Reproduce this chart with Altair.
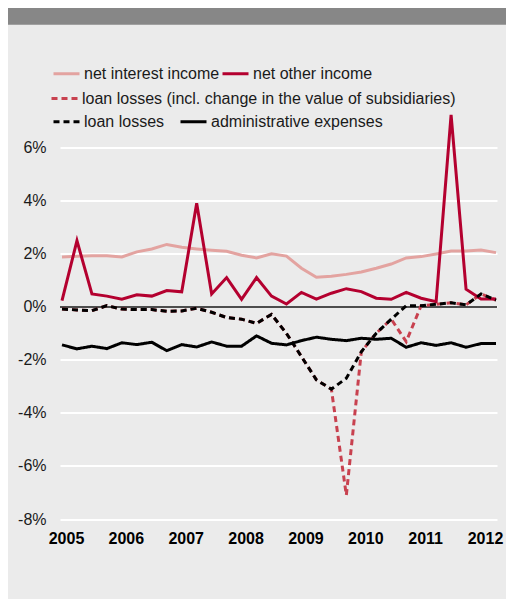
import altair as alt
import pandas as pd

quarters = [2005 + i / 4 for i in range(30)]
net_interest_income = [1.89, 1.91, 1.93, 1.93, 1.89, 2.08, 2.19, 2.36, 2.25, 2.19,
                       2.14, 2.10, 1.95, 1.85, 2.01, 1.92, 1.46, 1.12, 1.16, 1.23,
                       1.32, 1.46, 1.62, 1.85, 1.90, 2.00, 2.11, 2.11, 2.15, 2.05]
net_other_income = [0.24, 2.50, 0.49, 0.41, 0.29, 0.46, 0.41, 0.62, 0.57, 3.91,
                    0.49, 1.11, 0.29, 1.11, 0.41, 0.11, 0.55, 0.30, 0.52, 0.69,
                    0.58, 0.33, 0.29, 0.55, 0.33, 0.20, 7.25, 0.67, 0.30, 0.30]
loan_losses_incl = [-0.08, -0.11, -0.14, 0.05, -0.08, -0.10, -0.10, -0.16, -0.15, -0.05,
                    -0.20, -0.40, -0.46, -0.62, -0.28, -1.00, -1.87, -2.75, -3.10, -7.10,
                    -1.69, -0.99, -0.46, -1.31, 0.05, 0.10, 0.16, 0.08, 0.49, 0.26]
loan_losses = [-0.08, -0.11, -0.14, 0.05, -0.08, -0.10, -0.10, -0.16, -0.15, -0.05,
               -0.20, -0.40, -0.46, -0.62, -0.28, -1.00, -1.87, -2.75, -3.10, -2.69,
               -1.69, -0.99, -0.46, 0.05, 0.05, 0.10, 0.16, 0.08, 0.49, 0.26]
admin_expenses = [-1.43, -1.58, -1.48, -1.57, -1.35, -1.42, -1.33, -1.65, -1.42, -1.51,
                  -1.32, -1.48, -1.48, -1.09, -1.37, -1.43, -1.27, -1.14, -1.22, -1.27,
                  -1.18, -1.22, -1.18, -1.52, -1.35, -1.45, -1.35, -1.52, -1.38, -1.38]
year_ticks = [2005, 2006, 2007, 2008, 2009, 2010, 2011, 2012]
pct_ticks = [-8, -6, -4, -2, 0, 2, 4, 6]

names_a = ["net interest income", "net other income"]
names_b = ["loan losses (incl. change in the value of subsidiaries)"]
names_c = ["loan losses", "administrative expenses"]


def long(names, series):
    rows = []
    for n, s in zip(names, series):
        for t, v in zip(quarters, s):
            rows.append({"t": t, "v": v, "series": n})
    return pd.DataFrame(rows)


df_a = long(names_a, [net_interest_income, net_other_income])
df_b = long(names_b, [loan_losses_incl])
df_c = long(names_c, [loan_losses, admin_expenses])

FONT = "Liberation Sans"
W, H = 437, 405.5
PAD = {"left": 52, "top": 105.5, "right": 9, "bottom": 80}

x = alt.X("t:Q", scale=alt.Scale(domain=[2004.9666, 2012.267], nice=False, zero=False),
          axis=alt.Axis(values=year_ticks, format="d", title=None, grid=False, ticks=False,
                        domain=False, labelFontSize=16, labelFontWeight="bold",
                        labelColor="#000000", labelPadding=11, labelOffset=4, labelFont=FONT))
y = alt.Y("v:Q", scale=alt.Scale(domain=[-8, 7.3], nice=False, zero=False),
          axis=alt.Axis(values=pct_ticks, labelExpr="datum.value + '%'", title=None,
                        grid=True, gridColor="#ffffff", gridWidth=2, ticks=False,
                        domain=False, labelFontSize=16, labelColor="#1a1a1a",
                        labelPadding=14, labelFont=FONT))


def leg(cols, colpad, dash=None):
    kw = dict(title=None, orient="none", columns=cols, columnPadding=colpad,
              symbolType="stroke", symbolSize=676, symbolStrokeWidth=3,
              labelFontSize=16, labelColor="#1a1a1a", labelFont=FONT,
              labelOffset=3, padding=0, rowPadding=0, labelLimit=500)
    if dash:
        kw["symbolDash"] = dash
    return kw


header = alt.Chart(alt.Data(values=[{"k": 1}])).mark_rect(color="#878787").encode(
    x=alt.value(-PAD["left"]), x2=alt.value(W + PAD["right"]),
    y=alt.value(-PAD["top"]), y2=alt.value(-88.8))

zero = alt.Chart(alt.Data(values=[{"k": 1}])).mark_rule(color="#4d4d4d", strokeWidth=2).encode(
    y=alt.datum(0))

layer_b = alt.Chart(df_b).mark_line(strokeWidth=3, strokeDash=[6, 4]).encode(
    x=x, y=y,
    color=alt.Color("series:N", scale=alt.Scale(domain=names_b, range=["#c8414f"]),
                    legend=alt.Legend(legendX=-10, legendY=-29.5, **leg(1, 0, [6, 4]))))

layer_a = alt.Chart(df_a).mark_line(strokeWidth=3).encode(
    x=x, y=y,
    color=alt.Color("series:N", scale=alt.Scale(domain=names_a, range=["#e3a3a0", "#b4002f"]),
                    legend=alt.Legend(legendX=-8, legendY=-54.5, **leg(2, -4))))

legc = alt.Legend(legendX=-8, legendY=-6.5, **leg(2, 9))
layer_c = alt.Chart(df_c).mark_line(strokeWidth=3).encode(
    x=x, y=y,
    color=alt.Color("series:N", scale=alt.Scale(domain=names_c, range=["#000000", "#000000"]),
                    legend=legc),
    strokeDash=alt.StrokeDash("series:N", scale=alt.Scale(domain=names_c, range=[[6, 4], [1, 0]]),
                              legend=legc))

chart = alt.layer(header, zero, layer_b, layer_a, layer_c).resolve_scale(
    color="independent", strokeDash="independent"
).resolve_legend(
    color="independent", strokeDash="independent"
).properties(
    width=W, height=H, background="#ebebeb",
    autosize=alt.AutoSizeParams(type="none"), padding=PAD
).configure_view(stroke=None)

chart.save("out.html", embed_options={"renderer": "svg", "actions": False})
